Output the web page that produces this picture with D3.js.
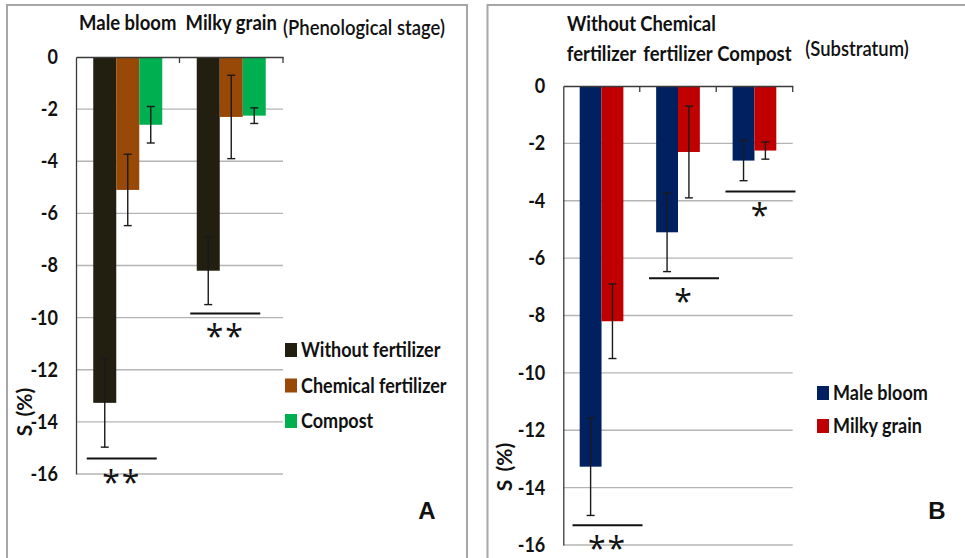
<!DOCTYPE html>
<html>
<head>
<meta charset="utf-8">
<script src="https://cdn.jsdelivr.net/npm/d3@7"></script>
<style>
  body { margin: 0; background: #fff; }
  svg text { font-family: Lato, 'Open Sans', sans-serif; fill: #111; }
</style>
</head>
<body>
<svg id="chart" width="965" height="558"></svg>
<script>
// values (S %, mean and error)
const stages = ['Male bloom', 'Milky grain'];
const substrata = ['Without fertilizer', 'Chemical fertilizer', 'Compost'];
const substrataLabels = [['Without', 'fertilizer'], ['Chemical', 'fertilizer'], ['Compost']];

// rows = stage, cols = substratum
const meanS = [
    [-13.27, -5.1, -2.6],
    [-8.2, -2.3, -2.25],
];
const errS = [
    [1.7, 1.37, 0.7],
    [1.3, 1.6, 0.3],
];

const yTicks = [0, -2, -4, -6, -8, -10, -12, -14, -16];

// significance bars (level in S units) + marks
const sigA = [
    { cat: 'Male bloom', level: -15.41, mark: '**' },
    { cat: 'Milky grain', level: -9.84, mark: '**' },
];
const sigB = [
    { cat: 'Without fertilizer', level: -15.31, mark: '**' },
    { cat: 'Chemical fertilizer', level: -6.7, mark: '*' },
    { cat: 'Compost', level: -3.68, mark: '*' },
];

const substratumColors = ['#221e10', '#984807', '#00b050'];
const stageColors = ['#002060', '#c00000'];

const svg = d3.select('#chart');

// the original uses a narrow font: squeeze text a bit
function condense(sel, k) {
    sel.each(function () {
        const w = this.getComputedTextLength();
        this.setAttribute('textLength', w * k);
        this.setAttribute('lengthAdjust', 'spacingAndGlyphs');
    });
}

// panel frames (bottom / right edge run off the picture)
svg.append('rect').attr('x', 7).attr('y', 5).attr('width', 460).attr('height', 580)
    .attr('fill', 'none').attr('stroke', '#a6a6a6').attr('stroke-width', 2);
svg.append('rect').attr('x', 487.5).attr('y', 5).attr('width', 520).attr('height', 580)
    .attr('fill', 'none').attr('stroke', '#a6a6a6').attr('stroke-width', 2);

function drawPanel(cfg) {
    const g = svg.append('g');
    const { x0, x1, yScale } = cfg;
    const [xl, xr] = x0.range();

    // gridlines
    g.selectAll('line.grid')
        .data(yTicks.slice(1))
        .join('line')
        .attr('x1', xl)
        .attr('x2', xr)
        .attr('y1', (d) => yScale(d))
        .attr('y2', (d) => yScale(d))
        .attr('stroke', '#b4b4b4')
        .attr('stroke-width', 1.3);

    // y axis
    const yAxis = d3.axisLeft(yScale).tickValues(yTicks).tickSize(0).tickPadding(18).tickFormat((d) => String(d));
    const ya = g.append('g').attr('transform', `translate(${xl},0)`).call(yAxis);
    ya.select('.domain').attr('stroke', '#3a3a3a').attr('stroke-width', 1.3);
    ya.selectAll('text').attr('font-size', 20).attr('font-weight', 'bold')
        .style('font-family', 'Lato, sans-serif').attr('fill', '#111');
    condense(ya.selectAll('text'), 0.9);

    // bars
    const groups = g.selectAll('g.cat')
        .data(cfg.cats)
        .join('g')
        .attr('transform', (d) => `translate(${x0(d)},0)`);

    groups.selectAll('rect')
        .data((d, i) => cfg.series.map((s, j) => ({ s, j, v: cfg.value(i, j) })))
        .join('rect')
        .attr('x', (d) => x1(d.s))
        .attr('width', x1.bandwidth())
        .attr('y', yScale(0))
        .attr('height', (d) => yScale(d.v) - yScale(0))
        .attr('fill', (d) => cfg.colors[d.j]);

    // error bars
    const eb = groups.selectAll('g.err')
        .data((d, i) => cfg.series.map((s, j) => ({ s, v: cfg.value(i, j), e: cfg.err(i, j) })))
        .join('g')
        .attr('stroke', '#1a1a1a')
        .attr('stroke-width', 1.4);
    const cx = (d) => x1(d.s) + x1.bandwidth() / 2;
    eb.append('line')
        .attr('x1', cx)
        .attr('x2', cx)
        .attr('y1', (d) => yScale(d.v + d.e))
        .attr('y2', (d) => yScale(d.v - d.e));
    [1, -1].forEach((sgn) => {
        eb.append('line')
            .attr('x1', (d) => cx(d) - 4)
            .attr('x2', (d) => cx(d) + 4)
            .attr('y1', (d) => yScale(d.v + sgn * d.e))
            .attr('y2', (d) => yScale(d.v + sgn * d.e));
    });

    // x axis at zero, ticks at the category boundaries
    const xg = g.append('g').attr('transform', `translate(0,${yScale(0)})`)
        .call(d3.axisBottom(x0).tickSize(0).tickFormat(''));
    xg.select('.domain').attr('stroke', '#3a3a3a').attr('stroke-width', 1.3);
    const step = x0.step();
    g.selectAll('line.xtick')
        .data(cfg.cats)
        .join('line')
        .attr('x1', (d) => x0(d) - x0.paddingOuter() * step + step)
        .attr('x2', (d) => x0(d) - x0.paddingOuter() * step + step)
        .attr('y1', yScale(0))
        .attr('y2', yScale(0) + 6)
        .attr('stroke', '#3a3a3a')
        .attr('stroke-width', 1.3);

    // category labels on top (one text per line)
    cfg.cats.forEach((c, i) => {
        const lines = cfg.catLabels[i];
        lines.forEach((ln, k) => {
            const t = g.append('text')
                .attr('x', x0(c) + x0.bandwidth() / 2)
                .attr('y', cfg.catLabelY - (lines.length - 1 - k) * 30)
                .attr('text-anchor', 'middle')
                .attr('font-size', 21)
                .attr('font-weight', 'bold')
                .text(ln);
            condense(t, 0.88);
        });
    });

    const unit = g.append('text')
        .attr('x', cfg.unitX)
        .attr('y', cfg.unitY)
        .attr('text-anchor', 'middle')
        .attr('font-size', 21)
        .attr('font-weight', 600)
        .text(cfg.unit);
    condense(unit, 0.88);

    // significance lines and stars
    const sigX = (d) => x0(d.cat) + x0.bandwidth() / 2 + cfg.sigShift;
    const sg = g.selectAll('g.sig').data(cfg.sig).join('g');
    sg.append('line')
        .attr('x1', (d) => sigX(d) - 35)
        .attr('x2', (d) => sigX(d) + 35)
        .attr('y1', (d) => yScale(d.level))
        .attr('y2', (d) => yScale(d.level))
        .attr('stroke', '#111')
        .attr('stroke-width', 2);
    sg.append('text')
        .attr('x', sigX)
        .attr('y', (d) => yScale(d.level) + 35)
        .attr('text-anchor', 'middle')
        .attr('font-size', 32)
        .attr('letter-spacing', 2)
        .style('font-family', "'Open Sans', sans-serif")
        .text((d) => d.mark);

    // y title
    g.append('text')
        .attr('transform', `translate(${cfg.yTitleX},${cfg.yTitleY}) rotate(-90)`)
        .attr('text-anchor', 'middle')
        .attr('font-size', 21)
        .attr('font-weight', 'bold')
        .attr('word-spacing', 3)
        .text('S (%)');

    // legend
    const lg = g.selectAll('g.leg')
        .data(cfg.legend)
        .join('g')
        .attr('transform', (d, i) => `translate(${cfg.legX},${cfg.legY + i * cfg.legStep})`);
    lg.append('rect').attr('x', 0).attr('y', -14).attr('width', 12).attr('height', 14)
        .attr('fill', (d, i) => cfg.colors[i]);
    const lt = lg.append('text').attr('x', 16).attr('y', 0).attr('font-size', 20).attr('font-weight', 'bold').text((d) => d);
    condense(lt, 0.9);

    // panel letter
    g.append('text')
        .attr('x', cfg.letterX)
        .attr('y', 519)
        .attr('text-anchor', 'middle')
        .attr('font-size', 24)
        .attr('font-weight', 'bold')
        .style('font-family', "'Liberation Sans', Arial, sans-serif")
        .text(cfg.letter);
}

// Panel A: grouped by phenological stage
const xA = d3.scaleBand().domain(stages).range([76, 283]).paddingInner(1 / 3).paddingOuter(1 / 6);
const xA1 = d3.scaleBand().domain(substrata).range([0, xA.bandwidth()]);
drawPanel({
    x0: xA,
    x1: xA1,
    yScale: d3.scaleLinear().domain([-16, 0]).range([474, 57]),
    cats: stages,
    catLabels: stages.map((s) => [s]),
    catLabelY: 30,
    series: substrata,
    value: (i, j) => meanS[i][j],
    err: (i, j) => errS[i][j],
    colors: substratumColors,
    sig: sigA,
    sigShift: -6,
    unit: '(Phenological stage)',
    unitX: 364,
    unitY: 35,
    yTitleX: 32,
    yTitleY: 412,
    legend: substrata,
    legX: 285,
    legY: 357,
    legStep: 35.5,
    letter: 'A',
    letterX: 427,
});

// Panel B: grouped by substratum
const xB = d3.scaleBand().domain(substrata).range([563.3, 792.7]).paddingInner(1.5 / 3.5).paddingOuter(0.75 / 3.5);
const xB1 = d3.scaleBand().domain(stages).range([0, xB.bandwidth()]);
drawPanel({
    x0: xB,
    x1: xB1,
    yScale: d3.scaleLinear().domain([-16, 0]).range([545, 86]),
    cats: substrata,
    catLabels: substrataLabels,
    catLabelY: 61,
    series: stages,
    value: (i, j) => meanS[j][i],
    err: (i, j) => errS[j][i],
    colors: stageColors,
    sig: sigB,
    sigShift: 6,
    unit: '(Substratum)',
    unitX: 857,
    unitY: 56,
    yTitleX: 512,
    yTitleY: 467,
    legend: stages,
    legX: 817,
    legY: 400,
    legStep: 33,
    letter: 'B',
    letterX: 937,
});
</script>
</body>
</html>
